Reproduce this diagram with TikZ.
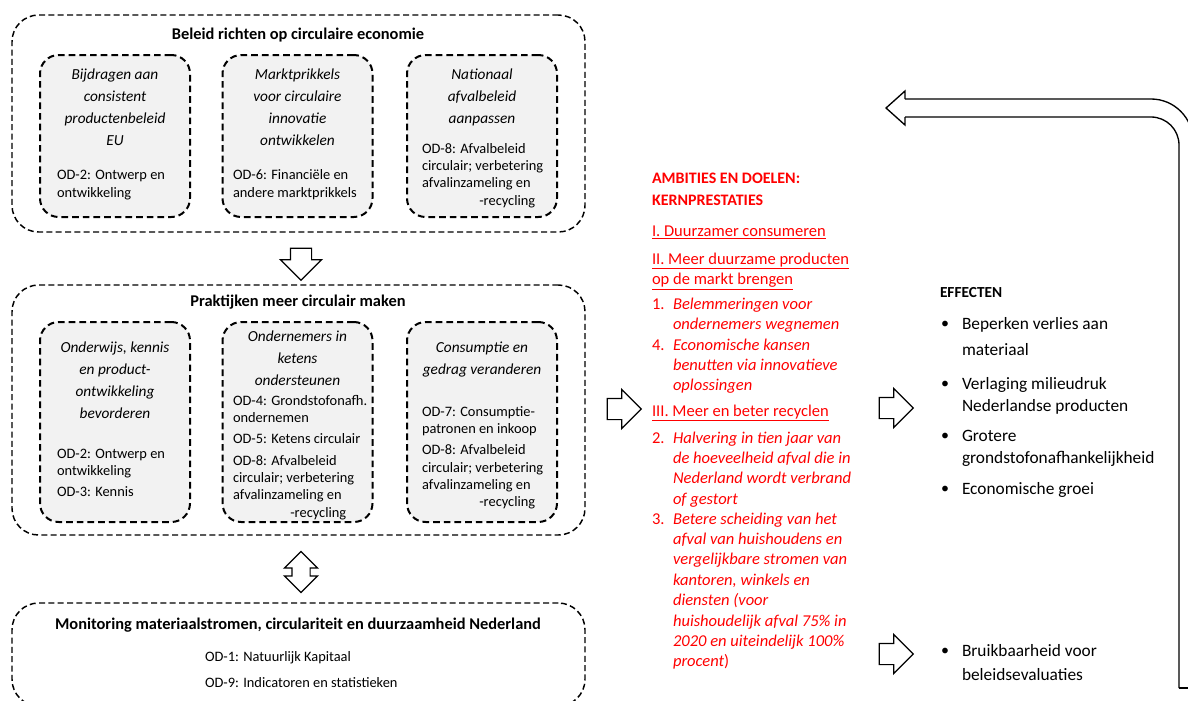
\documentclass[tikz,border=0pt]{standalone}
\usepackage{fontspec}
\setmainfont{Carlito}
\usepackage{tikz}
\usetikzlibrary{shapes.arrows}
\usetikzlibrary{positioning}

\begin{document}
\begin{tikzpicture}[
    x=0.75pt, y=-0.75pt,   % pixel grid, y runs downwards
    every node/.style={inner sep=0pt, outer sep=0pt},
    kader/.style={draw, rectangle, rounded corners=20pt, line width=1.1pt,
        dash pattern=on 4.5pt off 2.5pt, minimum width=429.75pt},
    blok/.style={draw, rectangle, rounded corners=14pt, line width=1.5pt,
        dash pattern=on 5pt off 3pt, fill=black!5, minimum width=112.5pt},
    kop/.style={font=\fontsize{12.3}{14}\selectfont\bfseries},
    blokkop/.style={font=\fontsize{11.5}{16.5}\selectfont\itshape, align=center},
    % anchor base = baseline of the last line
    od/.style={font=\fontsize{10.8}{13}\selectfont, align=left, anchor=base west},
    holpijl/.style={draw, line width=0.9pt, fill=white},
    rood/.style={text=red, font=\fontsize{12.4}{15.3}\selectfont, align=left, anchor=base west},
    roodschuin/.style={rood, font=\fontsize{12.4}{15.3}\selectfont\itshape},
    effect/.style={font=\fontsize{13}{17}\selectfont, align=left, anchor=base west},
    terug/.style={line width=1pt}
]
\useasboundingbox (0,0) rectangle (1188,700);

    % Beleid richten op circulaire economie
    \node[kader, minimum height=162.75pt] (beleid) at (298.5,123.5) {};
    \node[kop] (beleidkop) at (298,35) {Beleid richten op circulaire economie};
    \node[blok, minimum height=121.5pt] (b1) at (115,136) {};
    \node[blok, minimum height=121.5pt] (b2) at (297.5,136) {};
    \node[blok, minimum height=121.5pt] (b3) at (482,136) {};
    \node[blokkop] (b1kop) at (115,107) {Bijdragen aan\\consistent\\productenbeleid\\EU};
    \node[blokkop] (b2kop) at (297.5,107) {Marktprikkels\\voor circulaire\\innovatie\\ontwikkelen};
    \node[blokkop] (b3kop) at (482,97) {Nationaal\\afvalbeleid\\aanpassen};
    \node[od] (b1od) at (57,197.3) {OD-2: Ontwerp en\\ontwikkeling};
    \node[od] (b2od) at (233,197.3) {OD-6: Financiële en\\andere marktprikkels};
    \node[od] (b3od) at (422,205) {OD-8: Afvalbeleid\\circulair; verbetering\\afvalinzameling en\\\hspace*{43pt}-recycling};

    % Praktijken meer circulair maken
    \node[kader, minimum height=187.5pt] (praktijk) at (298.5,410) {};
    \node[kop] (praktijkkop) at (298,302) {Praktijken meer circulair maken};
    \node[blok, minimum height=150pt] (p1) at (115,422) {};
    \node[blok, minimum height=150pt] (p2) at (297.5,422) {};
    \node[blok, minimum height=150pt] (p3) at (482,422) {};
    \node[blokkop] (p1kop) at (115,380) {Onderwijs, kennis\\en product-\\ontwikkeling\\bevorderen};
    \node[blokkop] (p2kop) at (297.5,358) {Ondernemers in\\ketens\\ondersteunen};
    \node[blokkop] (p3kop) at (482,360) {Consumptie en\\gedrag veranderen};
    \node[od] (p1od) at (57,496.7) {OD-2: Ontwerp en\\ontwikkeling\\[3pt]OD-3: Kennis};
    \node[od] (p2od) at (233,517) {OD-4: Grondstofonafh.\\ondernemen\\[3pt]OD-5: Ketens circulair\\[3pt]OD-8: Afvalbeleid\\circulair; verbetering\\afvalinzameling en\\\hspace*{43pt}-recycling};
    \node[od] (p3od) at (422,506.7) {OD-7: Consumptie-\\patronen en inkoop\\[3pt]OD-8: Afvalbeleid\\circulair; verbetering\\afvalinzameling en\\\hspace*{43pt}-recycling};

    % Monitoring
    \node[kader, minimum height=77.25pt] (monitor) at (298.5,654.5) {};
    \node[kop] (monitorkop) at (298,625) {Monitoring materiaalstromen, circulariteit en duurzaamheid Nederland};
    \node[od, font=\fontsize{10.8}{19.5}\selectfont] (monitorod) at (205,687) {OD-1: Natuurlijk Kapitaal\\OD-9: Indicatoren en statistieken};

    % holle pijlen (shaft width set by an empty rule)
    \node[holpijl, single arrow, shape border rotate=270, single arrow head extend=7.5pt,
        minimum height=24pt] (pijl1) at (301,259) {\rule{15pt}{0pt}};
    \node[holpijl, double arrow, shape border rotate=90, double arrow head extend=5.6pt,
        minimum height=30.75pt] (pijl2) at (301,572) {\rule{12.75pt}{0pt}};
    \foreach \px/\py/\naam in {619/409/pijl3, 891/408/pijl4, 891/654/pijl5}
        \node[holpijl, single arrow, single arrow head extend=6.75pt,
            minimum height=25.5pt] (\naam) at (\px,\py) {\rule{0pt}{15pt}};

    % Ambities en doelen
    \node[rood, font=\fontsize{12}{15.8}\selectfont\bfseries] (ambkop) at (652,205) {AMBITIES EN DOELEN:\\KERNPRESTATIES};
    \node[rood] (amb1) at (652,236) {\underline{I. Duurzamer consumeren}};
    \node[rood] (amb2) at (652,284.4) {\underline{II. Meer duurzame producten}\\\underline{op de markt brengen}};
    \node[rood] (nr1) at (652,309) {1.};
    \node[roodschuin] (doel1) at (673,329.4) {Belemmeringen voor\\ondernemers wegnemen};
    \node[rood] (nr4) at (652,350) {4.};
    \node[roodschuin] (doel4) at (673,390.8) {Economische kansen\\benutten via innovatieve\\oplossingen};
    \node[rood] (amb3) at (652,416) {\underline{III. Meer en beter recyclen}};
    \node[rood] (nr2) at (652,443) {2.};
    \node[roodschuin] (doel2) at (673,504.2) {Halvering in tien jaar van\\de hoeveelheid afval die in\\Nederland wordt verbrand\\of gestort};
    \node[rood] (nr3) at (652,524) {3.};
    \node[roodschuin] (doel3) at (673,666.8) {Betere scheiding van het\\afval van huishoudens en\\vergelijkbare stromen van\\kantoren, winkels en\\diensten (voor\\huishoudelijk afval 75\% in\\2020 en uiteindelijk 100\%\\procent\textup{)}};

    % Effecten
    \node[effect, font=\fontsize{11.5}{13}\selectfont\bfseries] (effkop) at (940,297) {EFFECTEN};
    \foreach \py in {325,385,437,490,652}
        \node[font=\fontsize{12}{13}\selectfont] at (945,\py) {\textbullet};
    \node[effect] (eff1) at (962,355) {Beperken verlies aan\\[2.5pt]materiaal};
    \node[effect] (eff2) at (962,411.7) {Verlaging milieudruk\\Nederlandse producten};
    \node[effect] (eff3) at (962,463.7) {Grotere\\grondstofonafhankelijkheid};
    \node[effect] (eff4) at (962,494) {Economische groei};
    \node[effect] (eff5) at (962,680) {Bruikbaarheid voor\\[1pt]beleidsevaluaties};

    % terugkoppeling
    \coordinate (terugpunt) at (886,108);
    \draw[terug] (905,99) [rounded corners=31.5pt] -- (1193,99) -- (1193,720);
    \draw[terug] (905,117) [rounded corners=21pt] -- (1179,117) -- (1179,688);
    \draw[terug] (1179,688) -- (1193,688);
    \draw[terug] (905,99) -- (905,91) -- (terugpunt) -- (905,125) -- (905,117);

\end{tikzpicture}
\end{document}
